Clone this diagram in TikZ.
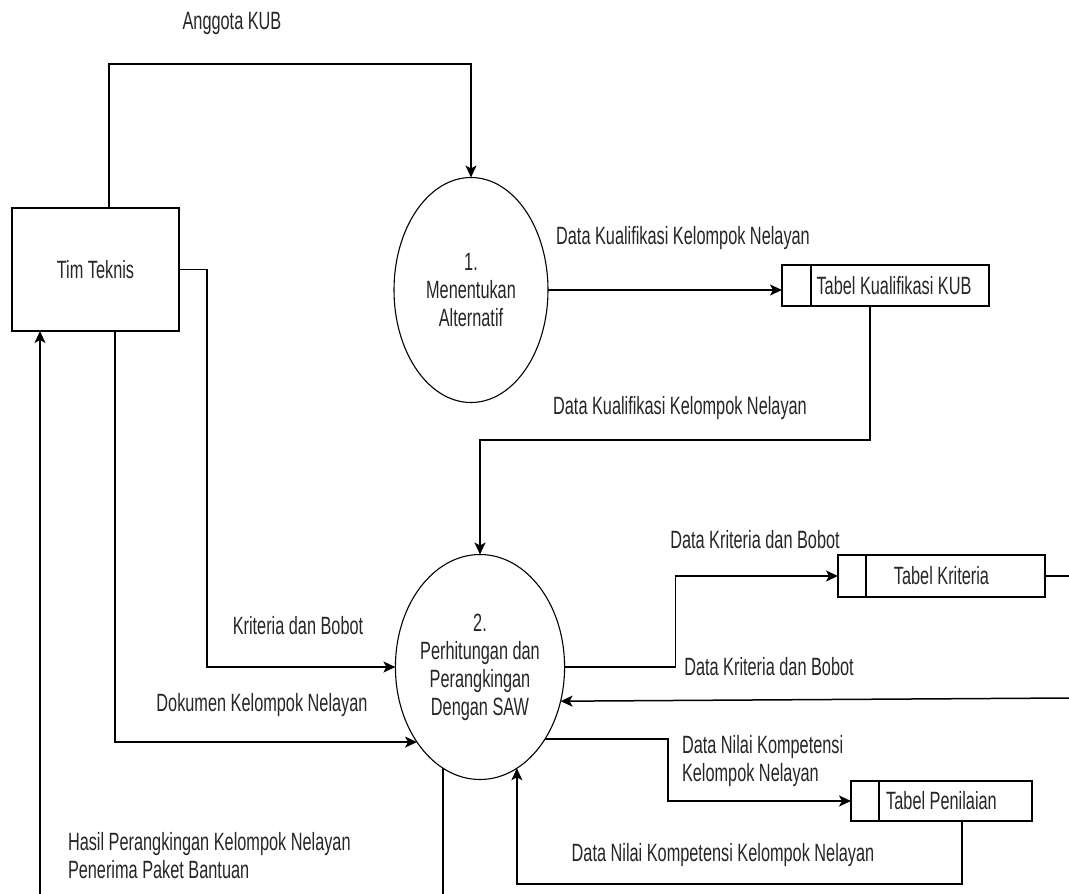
\documentclass[tikz,border=0pt]{standalone}
\usepackage{fontspec}
\setmainfont{Liberation Sans}[FakeStretch=0.652]
\usetikzlibrary{arrows.meta,shapes.geometric,calc}
\begin{document}
\begin{tikzpicture}[x=1pt,y=-1pt,
  every node/.style={font=\fontsize{25}{28}\selectfont, text=black!85, inner sep=0pt, outer sep=0pt},
  flow/.style={draw=black, line width=1.5pt, -{Stealth[length=12pt,width=11pt,inset=3pt]}},
  plain/.style={draw=black, line width=1.5pt},
  proc/.style={ellipse, draw=black, line width=1.1pt, minimum width=154pt, minimum height=225pt, align=center},
  ent/.style={rectangle, draw=black, line width=1.5pt, minimum width=167pt, minimum height=123pt},
  store/.style={rectangle, draw=black, line width=1.5pt},
  lbl/.style={align=center},
]
\useasboundingbox (0,0) rectangle (1069,894);

% nodes
\node[ent] (tt) at (95.5,269.5) {Tim Teknis};
\node[proc] (p1) at (471,290) {1.\\Menentukan\\Alternatif};
\node[proc] (p2) at (480,667) {2.\\Perhitungan dan\\Perangkingan\\Dengan SAW};
\node[store, minimum width=207pt, minimum height=41pt] (dsKUB) at (885.5,285.5) {\hspace*{17pt}Tabel Kualifikasi KUB};
\node[store, minimum width=207pt, minimum height=42pt] (dsKrit) at (941.5,576) {Tabel Kriteria};
\node[store, minimum width=181pt, minimum height=40pt] (dsPen) at (941.5,801) {Tabel Penilaian};
\draw[plain] ([xshift=29pt]dsKUB.north west) -- ([xshift=29pt]dsKUB.south west);
\draw[plain] ([xshift=28pt]dsKrit.north west) -- ([xshift=28pt]dsKrit.south west);
\draw[plain] ([xshift=28pt]dsPen.north west) -- ([xshift=28pt]dsPen.south west);

\coordinate (bl) at (40,894);
\coordinate (br) at (445,894);
\coordinate (e1) at (1069,576);
\coordinate (e2) at (1069,698);

% connectors
\draw[flow] ([xshift=97pt]tt.north west) -- ++(0,-144) -| (p1.north);
\draw[flow] (p1.east) -- (p1.east -| dsKUB.west);
\draw[flow] ([xshift=-15.5pt]dsKUB.south) -- ++(0,134) -| (p2.north);
\draw[flow] (tt.east) -- ++(28,0) |- (p2.west);
\draw[flow] ([xshift=19.5pt]tt.south) |- (p2.230.57);
\draw[flow] (bl) -- (bl |- tt.south);
\draw[plain] (p2.250.74) -- (p2.250.74 |- br);
\draw[flow] (p2.east) -- ++(111,0) |- (dsKrit.west);
\draw[plain] (dsKrit.east) -- (e1);
\draw[flow] (e2) -- (p2.337.27);
\draw[flow] (p2.312.04) -| ([xshift=-183pt]dsPen.west) -- (dsPen.west);
\draw[flow] ([xshift=20.5pt]dsPen.south) -- ++(0,63) -| (p2.290.55);

% labels
\node[lbl] (l1) at (232,23) {Anggota KUB};
\node[lbl] (l2) at (683,238) {Data Kualifikasi Kelompok Nelayan};
\node[lbl] (l3) at (680,408) {Data Kualifikasi Kelompok Nelayan};
\node[lbl] (l4) at (298,626) {Kriteria dan Bobot};
\node[lbl] (l5) at (262,705) {Dokumen Kelompok Nelayan};
\node[anchor=west, align=left] (l6) at (68,856) {Hasil Perangkingan Kelompok Nelayan\\Penerima Paket Bantuan};
\node[lbl] (l7) at (755,540) {Data Kriteria dan Bobot};
\node[lbl] (l8) at (769,667) {Data Kriteria dan Bobot};
\node[anchor=west, align=left] (l9) at (682,761) {Data Nilai Kompetensi\\Kelompok Nelayan};
\node[lbl] (l10) at (723,855) {Data Nilai Kompetensi Kelompok Nelayan};
\end{tikzpicture}
\end{document}
